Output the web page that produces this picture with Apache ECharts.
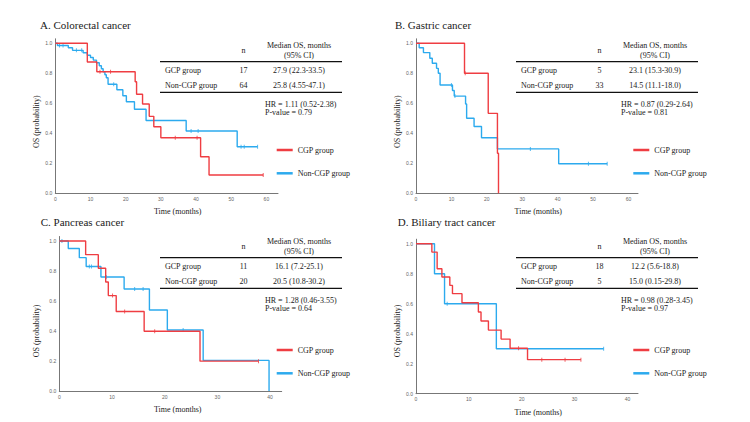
<!DOCTYPE html>
<html>
<head>
<meta charset="utf-8">
<script src="https://cdn.jsdelivr.net/npm/echarts@6/dist/echarts.min.js"></script>
<style>
  html, body { margin: 0; padding: 0; background: #fff; }
  #chart { width: 750px; height: 422px; }
</style>
</head>
<body>
<div id="chart"></div>
<script>
// A. Colorectal cancer
const aCgpTime = [0, 9.1, 11.8, 22.7, 23.1, 24.8, 26.7, 28.0, 30.0, 41.3, 43.7, 59.1]
const aCgpSurv = [1, 0.875, 0.81, 0.744, 0.66, 0.595, 0.513, 0.444, 0.37, 0.244, 0.122, 0.122]
const aCgpCens = [12.7, 15.7, 34.1, 40.3, 59.1]
const aNonTime = [0, 0.6, 3.7, 4.9, 7.9, 9.1, 10.0, 10.8, 11.7, 12.5, 13.1, 13.6, 14.1, 14.5, 15.0, 17.5, 19.2, 20.2, 22.5, 25.8, 37.2, 51.7, 57.5]
const aNonSurv = [1, 0.985, 0.97, 0.953, 0.937, 0.92, 0.905, 0.888, 0.87, 0.85, 0.83, 0.81, 0.79, 0.77, 0.727, 0.69, 0.65, 0.61, 0.56, 0.485, 0.415, 0.31, 0.31]
const aNonCens = [1.2, 2.2, 6.0, 7.5, 16.6, 38.6, 40.6, 52.8, 53.7, 57.5]

// B. Gastric cancer
const bCgpTime = [0, 13.7, 20.4, 23.0, 23.3]
const bCgpSurv = [1, 0.8, 0.533, 0.267, 0]
const bCgpCens = [13.9]
const bNonTime = [0, 0.9, 2.1, 3.9, 4.6, 5.8, 6.3, 6.8, 10.3, 10.8, 14.0, 14.3, 16.4, 18.5, 23.0, 40.3, 54.0]
const bNonSurv = [1, 0.97, 0.938, 0.9, 0.867, 0.833, 0.8, 0.722, 0.685, 0.648, 0.595, 0.5, 0.445, 0.37, 0.296, 0.197, 0.197]
const bNonCens = [10.0, 11.0, 32.3, 48.7, 54.0]

// C. Pancreas cancer
const cCgpTime = [0, 5.0, 7.4, 8.8, 9.3, 10.8, 16.1, 26.7, 37.8]
const cCgpSurv = [1, 0.909, 0.818, 0.727, 0.636, 0.53, 0.398, 0.199, 0.199]
const cCgpCens = [10.1, 12.4, 18.1, 37.8]
const cNonTime = [0, 1.7, 3.8, 5.1, 7.9, 12.3, 17.1, 20.5, 27.3, 39.8]
const cNonSurv = [1, 0.95, 0.889, 0.83, 0.76, 0.68, 0.54, 0.407, 0.204, 0]
const cNonCens = [0.5, 5.7, 6.1, 8.9, 14.3, 15.9, 23.5]

// D. Biliary tract cancer
const dCgpTime = [0, 3.0, 4.0, 4.9, 6.4, 6.9, 8.7, 11.8, 12.3, 13.7, 16.1, 17.8, 21.1, 31.2]
const dCgpSurv = [1, 0.944, 0.833, 0.778, 0.722, 0.667, 0.606, 0.545, 0.485, 0.424, 0.364, 0.303, 0.227, 0.227]
const dCgpCens = [19.4, 23.8, 28.2, 31.2]
const dNonTime = [0, 3.5, 5.4, 15.2, 35.5]
const dNonSurv = [1, 0.8, 0.6, 0.3, 0.3]
const dNonCens = [5.9, 35.5]

const titles = ['A. Colorectal cancer', 'B. Gastric cancer', 'C. Pancreas cancer', 'D. Biliary tract cancer']
const groupNames = ['CGP group', 'Non-CGP group']
const tableLabels = ['GCP group', 'Non-CGP group']
const tableN = [['17', '64'], ['5', '33'], ['11', '20'], ['18', '5']]
const tableMedian = [
  ['27.9 (22.3-33.5)', '25.8 (4.55-47.1)'],
  ['23.1 (15.3-30.9)', '14.5 (11.1-18.0)'],
  ['16.1 (7.2-25.1)', '20.5 (10.8-30.2)'],
  ['12.2 (5.6-18.8)', '15.0 (0.15-29.8)'],
]
const hrText = ['HR = 1.11 (0.52-2.38)', 'HR = 0.87 (0.29-2.64)', 'HR = 1.28 (0.46-3.55)', 'HR = 0.98 (0.28-3.45)']
const pText = ['P-value = 0.79', 'P-value = 0.81', 'P-value = 0.64', 'P-value = 0.97']

const RED = '#ef3d42'
const BLUE = '#2caaee'
const SERIF = '"Liberation Serif", "DejaVu Serif", serif'

const curves = [
  [aCgpTime, aCgpSurv, aCgpCens, aNonTime, aNonSurv, aNonCens],
  [bCgpTime, bCgpSurv, bCgpCens, bNonTime, bNonSurv, bNonCens],
  [cCgpTime, cCgpSurv, cCgpCens, cNonTime, cNonSurv, cNonCens],
  [dCgpTime, dCgpSurv, dCgpCens, dNonTime, dNonSurv, dNonCens],
]

// layout of each panel (pixels)
const layout = [
  { left: 55.3, zeroY: 193.3, width: 222.7, xMax: 63.3, title: [40, 25], tbl: [160, 61.7], leg: [276.7, 145], xName: [177.7, 211.6], yName: [36.7, 121.7] },
  { left: 416, zeroY: 193.3, width: 222, xMax: 62.7, title: [395, 25], tbl: [516, 61.7], leg: [633.3, 145], xName: [538.3, 211.6], yName: [397.3, 121.7] },
  { left: 59.3, zeroY: 391, width: 222.4, xMax: 42.2, title: [40.7, 222], tbl: [160, 257.7], leg: [276.7, 345], xName: [177.7, 409.3], yName: [36.7, 331] },
  { left: 416, zeroY: 393.7, width: 222, xMax: 42.0, title: [397.7, 222], tbl: [516, 257.7], leg: [633.3, 345], xName: [538.3, 412], yName: [397.3, 331] },
]
const Y_MAX = 1.03
const PX_PER_UNIT = 150

function kmPairs(times, survs) {
  return times.map((t, i) => [t, survs[i]])
}

function survAt(times, survs, t) {
  let s = survs[0]
  for (let i = 0; i < times.length; i++) {
    if (times[i] <= t) s = survs[i]
  }
  return s
}

function censorPairs(times, survs, cens) {
  return cens.map(t => [t, survAt(times, survs, t)])
}

function text(str, x, y, size, align, extra) {
  return Object.assign({
    type: 'text',
    x: x,
    y: y,
    silent: true,
    style: {
      text: str,
      font: size + 'px ' + SERIF,
      fill: '#1a1a1a',
      align: align || 'left',
      textAlign: align || 'left',
      verticalAlign: 'middle',
      textVerticalAlign: 'middle',
    },
  }, extra || {})
}

function rule(x1, x2, y) {
  return {
    type: 'line',
    silent: true,
    shape: { x1: x1, y1: y, x2: x2, y2: y },
    style: { stroke: '#111', lineWidth: 1.3 },
  }
}

const grid = [], xAxis = [], yAxis = [], series = [], legend = [], graphic = []

layout.forEach((p, i) => {
  const h = Y_MAX * PX_PER_UNIT
  grid.push({ left: p.left, top: p.zeroY - h, width: p.width, height: h })
  xAxis.push({
    gridIndex: i, type: 'value', min: 0, max: p.xMax, interval: 10,
    axisLine: { lineStyle: { color: '#777', width: 1 } },
    axisTick: { show: false },
    splitLine: { show: false },
    axisLabel: {
      fontSize: 5, color: '#666', margin: 3, fontFamily: 'Liberation Sans',
      formatter: v => (Math.abs(v % 10) < 1e-6 ? String(v) : ''),
    },
  })
  yAxis.push({
    gridIndex: i, type: 'value', min: 0, max: Y_MAX, interval: 0.2,
    axisLine: { show: true, lineStyle: { color: '#777', width: 1 } },
    axisTick: { show: false },
    splitLine: { show: false },
    axisLabel: {
      fontSize: 5, color: '#666', margin: 3, fontFamily: 'Liberation Sans',
      formatter: v => (Math.abs(v * 5 - Math.round(v * 5)) < 1e-6 ? v.toFixed(1) : ''),
    },
  })

  const [ct, cs, cc, nt, ns, nc] = curves[i]
  const base = { xAxisIndex: i, yAxisIndex: i, animation: false, emphasis: { disabled: true } }
  series.push(Object.assign({
    type: 'line', name: groupNames[1], step: 'end', showSymbol: false,
    data: kmPairs(nt, ns), color: BLUE, lineStyle: { color: BLUE, width: 1.4 }, z: 2,
  }, base))
  series.push(Object.assign({
    type: 'line', name: groupNames[0], step: 'end', showSymbol: false,
    data: kmPairs(ct, cs), color: RED, lineStyle: { color: RED, width: 1.4 }, z: 3,
  }, base))
  series.push(Object.assign({
    type: 'scatter', name: 'Non-CGP censored', symbol: 'rect', symbolSize: [1, 4],
    data: censorPairs(nt, ns, nc), itemStyle: { color: BLUE }, z: 2,
  }, base))
  series.push(Object.assign({
    type: 'scatter', name: 'CGP censored', symbol: 'rect', symbolSize: [1, 4],
    data: censorPairs(ct, cs, cc), itemStyle: { color: RED }, z: 3,
  }, base))

  legend.push({
    left: p.leg[0], top: p.leg[1], orient: 'vertical', padding: 0,
    icon: 'rect', itemWidth: 16, itemHeight: 2.5, itemGap: 13.3,
    selectedMode: false,
    textStyle: { fontFamily: SERIF, fontSize: 8, color: '#1a1a1a', lineHeight: 10 },
    data: groupNames,
  })

  // titles and axis names
  graphic.push(text(titles[i], p.title[0], p.title[1], 11, 'left'))
  graphic.push(text('Time (months)', p.xName[0], p.xName[1], 8, 'center'))
  graphic.push(text('OS (probability)', p.yName[0], p.yName[1], 8, 'center', { rotation: Math.PI / 2 }))

  // summary table
  const L = p.tbl[0], T = p.tbl[1]
  graphic.push(text('Median OS, months', L + 139, T - 16, 8, 'center'))
  graphic.push(text('(95% CI)', L + 139, T - 6.7, 8, 'center'))
  graphic.push(text('n', L + 83.5, T - 11, 8, 'center'))
  graphic.push(rule(L, L + 182, T))
  graphic.push(text(tableLabels[0], L + 5, T + 9, 8, 'left'))
  graphic.push(text(tableN[i][0], L + 83.5, T + 9, 8, 'center'))
  graphic.push(text(tableMedian[i][0], L + 139, T + 9, 8, 'center'))
  graphic.push(text(tableLabels[1], L + 5, T + 24, 8, 'left'))
  graphic.push(text(tableN[i][1], L + 83.5, T + 24, 8, 'center'))
  graphic.push(text(tableMedian[i][1], L + 139, T + 24, 8, 'center'))
  graphic.push(rule(L, L + 182, T + 30.6))
  graphic.push(text(hrText[i], L + 105, T + 42.6, 8, 'left'))
  graphic.push(text(pText[i], L + 105, T + 51, 8, 'left'))
})

const chart = echarts.init(document.getElementById('chart'), null, { renderer: 'svg' })
chart.setOption({
  animation: false,
  backgroundColor: '#fff',
  grid, xAxis, yAxis, series, legend, graphic,
})
</script>
</body>
</html>
